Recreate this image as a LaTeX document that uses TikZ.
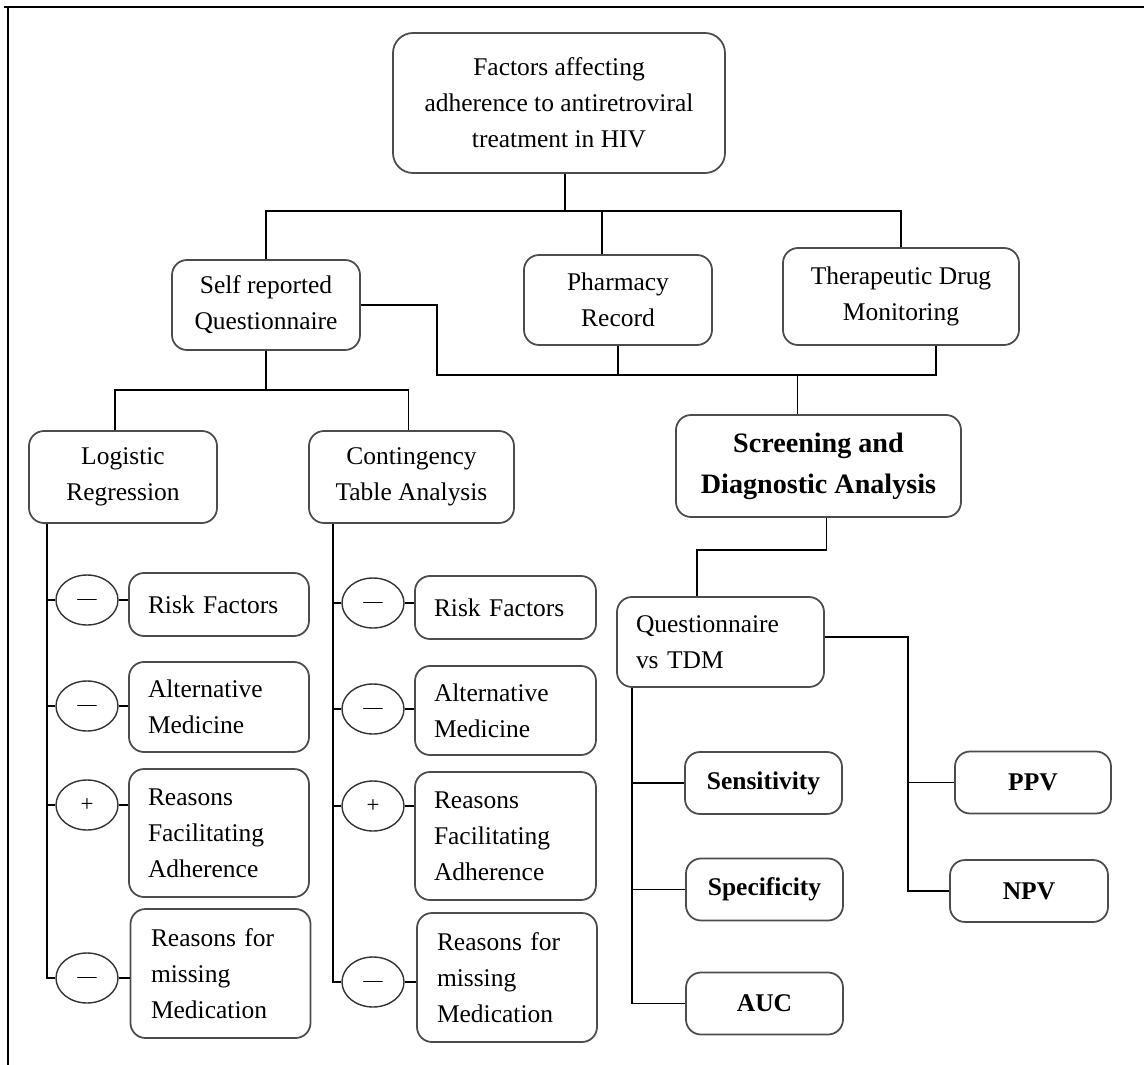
\documentclass[tikz,border=0pt]{standalone}
\usepackage{fontspec}
\setmainfont{Liberation Serif}
\usepackage{tikz}
\usetikzlibrary{shapes.geometric}

\newcommand{\minussign}{\raisebox{-0.22em}[0pt][0pt]{—}}

\begin{document}
\begin{tikzpicture}

%
% Styles
%
\tikzstyle{box}     = [draw=black!70,line width=1pt,rounded corners=0.3cm,inner sep=0pt,align=center,font=\fontsize{14.5}{20.5}\selectfont]
\tikzstyle{leftbox} = [box,align=left,inner xsep=0.38cm,text width=2.84cm,minimum width=3.6cm]
\tikzstyle{result}  = [box,font=\bfseries\fontsize{14.5}{20.5}\selectfont,minimum width=3.14cm,minimum height=1.24cm]
\tikzstyle{sign}    = [ellipse,draw=black!80,line width=0.8pt,minimum width=1.24cm,minimum height=1cm,inner sep=0pt,font=\fontsize{11}{13}\selectfont]
\tikzstyle{plus}    = [sign,font=\fontsize{13}{15}\selectfont]
\tikzstyle{edge}    = [draw=black,line width=0.8pt]
\tikzstyle{frame}   = [draw=black,line width=1.4pt]

\useasboundingbox (0,0) rectangle (22.88,-21.3);
\draw[frame] (0.08,-0.14) -- (22.88,-0.14);
\draw[frame] (0.16,-0.14) -- (0.16,-21.3);

% top level
\node[box,rounded corners=0.4cm,minimum width=6.64cm,minimum height=2.8cm] (factors) at (11.18,-2.06)
  {Factors affecting\\adherence to antiretroviral\\treatment in HIV};
\node[box,minimum width=3.76cm,minimum height=1.8cm] (self) at (5.32,-6.10) {Self reported\\Questionnaire};
\node[box,minimum width=3.76cm,minimum height=1.8cm] (pharm) at (12.36,-6.0) {Pharmacy\\Record};
\node[box,minimum width=4.72cm,minimum height=1.94cm] (tdm) at (18.02,-5.93) {Therapeutic Drug\\Monitoring};
\node[box,font=\bfseries\fontsize{16}{23.5}\selectfont,minimum width=5.7cm,minimum height=2.04cm] (screen) at (16.37,-9.32)
  {Screening and\\Diagnostic Analysis};

\coordinate (topbus) at (11.3,-4.22);
\coordinate (lowbus) at (8.74,-7.5);
\draw[edge] (factors.south -| topbus) -- (topbus);
\draw[edge] (self.north) |- (topbus) -| (tdm.north);
\draw[edge] ([xshift=-0.32cm]pharm.north) -- ([xshift=-0.32cm]pharm.north |- topbus);
\draw[edge] (self.east) -| (lowbus) -| ([xshift=0.7cm]tdm.south);
\draw[edge] (pharm.south) -- (pharm.south |- lowbus);
\draw[edge] ([xshift=-0.42cm]screen.north) -- ([xshift=-0.42cm]screen.north |- lowbus);

% questionnaire vs TDM
\node[box,align=left,inner xsep=0.38cm,text width=3.38cm,minimum height=1.8cm] (qvt) at (14.41,-12.84) {Questionnaire\\vs TDM};
\node[result] (sens) at (15.27,-15.66) {Sensitivity};
\node[result] (spec) at (15.29,-17.79) {Specificity};
\node[result] (auc)  at (15.29,-20.07) {AUC};
\node[result,minimum width=3.12cm] (ppv) at (20.66,-15.65) {PPV};
\node[result,minimum width=3.16cm] (npv) at (20.58,-17.82) {NPV};

\coordinate (split) at (13.94,-11.0);
\coordinate (qspine) at (12.64,0);
\coordinate (rspine) at (18.16,0);
\draw[edge] ([xshift=0.16cm]screen.south) |- (split) -- (split |- qvt.north);
\draw[edge] (qvt.south -| qspine) |- (auc.west);
\draw[edge] (sens.west -| qspine) -- (sens.west);
\draw[edge] (spec.west -| qspine) -- (spec.west);
\draw[edge] ([yshift=0.1cm]qvt.east) -| (npv.west -| rspine) -- (npv.west);
\draw[edge] (ppv.west -| rspine) -- (ppv.west);

% self reported questionnaire
\node[box,minimum width=3.76cm,minimum height=1.84cm] (lr)  at (2.46,-9.54) {Logistic\\Regression};
\node[box,minimum width=4.1cm,minimum height=1.84cm]  (cta) at (8.23,-9.54) {Contingency\\Table Analysis};

\coordinate (lbus) at (0,-7.8);
\draw[edge] (self.south) -- (self.south |- lbus);
\draw[edge] ([xshift=-0.16cm]lr.north) |- ([xshift=-0.06cm]cta.north |- lbus) -- ([xshift=-0.06cm]cta.north);

% logistic regression
\node[leftbox,minimum height=1.26cm] (lrrisk) at (4.38,-12.09) {Risk Factors};
\node[leftbox,minimum height=1.8cm]  (lralt)  at (4.38,-14.14) {Alternative\\Medicine};
\node[leftbox,minimum height=2.56cm] (lrfac)  at (4.38,-16.66) {Reasons\\Facilitating\\Adherence};
\node[leftbox,minimum height=2.58cm,text width=2.78cm] (lrmiss) at (4.41,-19.47) {Reasons for\\missing\\Medication};
\node[sign] (lrs1) at (1.74,-12.0)  {\minussign};
\node[sign] (lrs2) at (1.74,-14.12) {\minussign};
\node[plus] (lrs3) at (1.74,-16.1)  {+};
\node[sign] (lrs4) at (1.74,-19.56) {\minussign};

\coordinate (lrspine) at (0.94,0);
\draw[edge] (lr.south -| lrspine) |- (lrs4.west);
\draw[edge] (lrs1.west -| lrspine) -- (lrs1.west);
\draw[edge] (lrs2.west -| lrspine) -- (lrs2.west);
\draw[edge] (lrs3.west -| lrspine) -- (lrs3.west);
\draw[edge] (lrs1.east) -- (lrs1.east -| lrrisk.west);
\draw[edge] (lrs2.east) -- (lrs2.east -| lralt.west);
\draw[edge] (lrs3.east) -- (lrs3.east -| lrfac.west);
\draw[edge] (lrs4.east) -- (lrs4.east -| lrmiss.west);

% contingency table analysis
\node[leftbox,text width=2.86cm,minimum height=1.26cm] (ctrisk) at (10.11,-12.15) {Risk Factors};
\node[leftbox,text width=2.86cm,minimum height=1.78cm] (ctalt)  at (10.11,-14.21) {Alternative\\Medicine};
\node[leftbox,text width=2.86cm,minimum height=2.56cm] (ctfac)  at (10.11,-16.72) {Reasons\\Facilitating\\Adherence};
\node[leftbox,text width=2.8cm,minimum height=2.58cm]  (ctmiss) at (10.14,-19.55) {Reasons for\\missing\\Medication};
\node[sign] (cts1) at (7.46,-12.06) {\minussign};
\node[sign] (cts2) at (7.46,-14.18) {\minussign};
\node[plus] (cts3) at (7.46,-16.12) {+};
\node[sign] (cts4) at (7.46,-19.64) {\minussign};

\coordinate (ctspine) at (6.66,0);
\draw[edge] (cta.south -| ctspine) |- (cts4.west);
\draw[edge] (cts1.west -| ctspine) -- (cts1.west);
\draw[edge] (cts2.west -| ctspine) -- (cts2.west);
\draw[edge] (cts3.west -| ctspine) -- (cts3.west);
\draw[edge] (cts1.east) -- (cts1.east -| ctrisk.west);
\draw[edge] (cts2.east) -- (cts2.east -| ctalt.west);
\draw[edge] (cts3.east) -- (cts3.east -| ctfac.west);
\draw[edge] (cts4.east) -- (cts4.east -| ctmiss.west);

\end{tikzpicture}
\end{document}
